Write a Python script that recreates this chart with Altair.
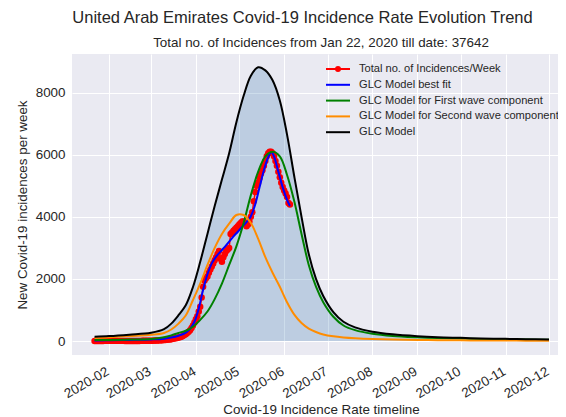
import altair as alt
import pandas as pd

SUPTITLE = "United Arab Emirates Covid-19 Incidence Rate Evolution Trend"
SUBTITLE = "Total no. of Incidences from Jan 22, 2020 till date: 37642"
X_TITLE = "Covid-19 Incidence Rate timeline"
Y_TITLE = "New Covid-19 incidences per week"

SERIES = ["Total no. of Incidences/Week", "GLC Model best fit",
          "GLC Model for First wave component", "GLC Model for Second wave component",
          "GLC Model"]
COLORS = ["#ff0000", "#0000ff", "#008000", "#ff8c00", "#000000"]

# observed weekly incidences, one value per day from 2020-01-22
obs_start = "2020-01-22"
obs_values = [
    0, 0, 0, 0, 0, 0, 0, 4, 4, 5,
    5, 5, 5, 5, 5, 5, 4, 4, 4, 4, 4, 3, 2, 2, 1, 1, 1, 1, 2, 2, 2, 3, 4, 5, 5, 5, 5, 5, 6,
    8, 10, 12, 14, 16, 18, 20, 22, 26, 30, 35, 40, 45, 50, 60, 70, 80, 90, 100, 110,
    120, 140, 160, 190, 220, 260, 300, 350, 420, 500, 600,
    700, 800, 950, 1100, 1400, 1750, 1950, 2020, 2080, 2200, 2300, 2400, 2500, 2600, 2700,
    2800, 2900, 2650, 2550, 2700, 2800, 2900, 2950, 3000, 3450, 3500, 3550, 3600, 3650, 3700,
    3750, 3800, 3850, 3850, 3800, 3700, 3750, 3850, 4000, 4150, 4500, 4800, 5000, 5100, 5250,
    5400, 5500, 5650, 5800, 5950, 6050, 6100, 6100, 6050, 5950, 5800, 5650, 5450, 5280, 5100,
    4960,
    4850, 4750, 4640, 4450, 4400,
]

fit_dates = ["2020-01-22", "2020-02-01", "2020-02-15", "2020-03-01", "2020-03-10", "2020-03-15",
             "2020-03-20", "2020-03-25", "2020-03-28", "2020-03-31", "2020-04-03", "2020-04-06",
             "2020-04-09", "2020-04-12", "2020-04-15", "2020-04-18", "2020-04-21", "2020-04-24",
             "2020-04-27", "2020-04-30", "2020-05-03", "2020-05-06", "2020-05-09", "2020-05-12",
             "2020-05-15", "2020-05-18", "2020-05-21", "2020-05-23", "2020-05-25", "2020-05-28",
             "2020-05-31", "2020-06-03", "2020-06-05"]
fit_values = [20, 25, 35, 50, 75, 110, 170, 270, 390, 620, 1050, 1650, 2150, 2500, 2720, 2880,
              3030, 3200, 3370, 3520, 3680, 3830, 4020, 4400, 4950, 5500, 5920, 6080, 5950, 5450,
              4950, 4550, 4350]

model_dates = ["2020-01-22", "2020-02-01", "2020-02-15", "2020-03-01", "2020-03-10", "2020-03-15",
               "2020-03-20", "2020-03-25", "2020-03-30", "2020-04-04", "2020-04-09", "2020-04-14",
               "2020-04-19", "2020-04-24", "2020-04-29", "2020-05-04", "2020-05-09", "2020-05-14",
               "2020-05-19", "2020-05-24", "2020-05-29", "2020-06-03", "2020-06-08", "2020-06-13",
               "2020-06-18", "2020-06-23", "2020-06-28", "2020-07-05", "2020-07-12", "2020-07-20",
               "2020-08-01", "2020-08-15", "2020-09-01", "2020-09-15", "2020-10-01", "2020-10-15",
               "2020-11-01", "2020-11-15", "2020-12-01"]
model_total = [140, 160, 205, 265, 380, 560, 830, 1150, 1740, 2550, 3450, 4350, 5200, 6050, 7050,
               7900, 8550, 8820, 8720, 8400, 7750, 6650, 5300, 4000, 2800, 2000, 1450, 930, 620,
               440, 300, 215, 155, 123, 102, 83, 70, 57, 48]
model_first = [30, 35, 45, 65, 120, 180, 260, 330, 460, 680, 950, 1350, 1850, 2450, 3050, 3800,
               4700, 5450, 5950, 6100, 5950, 5350, 4500, 3450, 2450, 1750, 1250, 780, 500, 350,
               235, 165, 120, 95, 80, 65, 55, 45, 38]
model_second = [100, 120, 160, 200, 260, 370, 560, 820, 1320, 1850, 2450, 3000, 3450, 3780, 4060,
                4060, 3800, 3300, 2700, 2200, 1750, 1250, 850, 580, 400, 290, 210, 150, 115, 90,
                65, 48, 35, 28, 22, 18, 15, 12, 10]

y_ticks = [0, 2000, 4000, 6000, 8000]
x_tick_months = list(range(2, 13))

FONT = "Liberation Sans"
TEXT = "#262626"

obs_dates = pd.date_range(obs_start, periods=len(obs_values), freq="D").strftime("%Y-%m-%d")
df_obs = pd.DataFrame({"date": obs_dates, "value": obs_values, "series": SERIES[0]})
df_fit = pd.DataFrame({"date": fit_dates, "value": fit_values, "series": SERIES[1]})
df_first = pd.DataFrame({"date": model_dates, "value": model_first, "series": SERIES[2]})
df_second = pd.DataFrame({"date": model_dates, "value": model_second, "series": SERIES[3]})
df_total = pd.DataFrame({"date": model_dates, "value": model_total, "series": SERIES[4]})
df_legend = pd.DataFrame({"date": ["2020-06-01"] * 5, "value": [0] * 5, "series": SERIES})

X = alt.X(
    "date:T",
    scale=alt.Scale(type="utc", domain=[
        alt.DateTime(year=2020, month=1, date=6, hours=10, utc=True),
        alt.DateTime(year=2020, month=12, date=7, hours=5, utc=True)]),
    axis=alt.Axis(values=[alt.DateTime(year=2020, month=m, date=1, utc=True) for m in x_tick_months],
                  labelExpr="utcFormat(datum.value, '%Y-%m')", labelAngle=-30, labelAlign="right",
                  labelBaseline="top", labelPadding=9, labelOffset=-5, ticks=False, domain=False,
                  grid=True, gridColor="white", gridWidth=1, labelFlush=False,
                  labelOverlap=False, titleX=249, titleY=58, titleBaseline="alphabetic",
                  titleAlign="center"),
    title=X_TITLE,
)
Y = alt.Y(
    "value:Q",
    scale=alt.Scale(domain=[-451, 9247], nice=False, zero=False),
    axis=alt.Axis(values=y_ticks, format="d", labelPadding=7, ticks=False, domain=False,
                  grid=True, gridColor="white", gridWidth=1, titleAngle=270, titleX=-46,
                  titleY=150.5, titleAlign="center", titleBaseline="alphabetic"),
    title=Y_TITLE,
)

LINE_PATH = "M-2.4,0L2.4,0"
DOT_PATH = "M-2.4,0L2.4,0M-0.4,0A0.4,0.4,0,1,0,0.4,0A0.4,0.4,0,1,0,-0.4,0Z"

legend = alt.Legend(title=None, orient="none", legendX=260, legendY=9, direction="vertical",
                    symbolSize=100, symbolStrokeWidth=2, symbolFillColor="#ff0000",
                    symbolOpacity=1, labelFont=FONT, labelFontSize=11.1, labelColor=TEXT,
                    labelOffset=15, labelLimit=400, rowPadding=3.8, padding=0)
COLOR = alt.Color("series:N", scale=alt.Scale(domain=SERIES, range=COLORS), legend=legend)
SHAPE = alt.Shape("series:N", scale=alt.Scale(domain=SERIES, range=[DOT_PATH] + [LINE_PATH] * 4),
                  legend=legend)

area = alt.Chart(df_total).mark_area(color="steelblue", opacity=0.27,
                                     interpolate="catmull-rom").encode(x=X, y=Y)
obs_line = alt.Chart(df_obs).mark_line(strokeWidth=1.5).encode(x=X, y=Y, color=COLOR)
obs_pts = alt.Chart(df_obs).mark_circle(size=42, color="#ff0000", opacity=1).encode(x=X, y=Y)
fit_line = alt.Chart(df_fit).mark_line(strokeWidth=2, interpolate="monotone").encode(
    x=X, y=Y, color=COLOR)
first_line = alt.Chart(df_first).mark_line(strokeWidth=2, interpolate="catmull-rom").encode(
    x=X, y=Y, color=COLOR)
second_line = alt.Chart(df_second).mark_line(strokeWidth=2, interpolate="catmull-rom").encode(
    x=X, y=Y, color=COLOR)
total_line = alt.Chart(df_total).mark_line(strokeWidth=2, interpolate="catmull-rom").encode(
    x=X, y=Y, color=COLOR)
legend_layer = alt.Chart(df_legend).mark_point(filled=False, opacity=0).encode(
    x=X, y=Y, color=COLOR, shape=SHAPE).transform_filter("datum.value > 1000000")

title_txt = alt.Chart(pd.DataFrame({"t": [SUPTITLE]})).mark_text(
    font=FONT, fontSize=16.5, color=TEXT, align="center", baseline="alphabetic").encode(
    text="t:N", x=alt.value(230.5), y=alt.value(-31.5))
sub_txt = alt.Chart(pd.DataFrame({"t": [SUBTITLE]})).mark_text(
    font=FONT, fontSize=13.4, color=TEXT, align="center", baseline="alphabetic").encode(
    text="t:N", x=alt.value(249), y=alt.value(-7))

chart = alt.layer(area, obs_line, obs_pts, fit_line, first_line, second_line, total_line,
                  legend_layer, title_txt, sub_txt).properties(
    width=486, height=301,
    autosize=alt.AutoSizeParams(type="none"),
    padding={"left": 64, "top": 46, "right": 0, "bottom": 61},
    background="white",
).configure_view(fill="#EAEAF2", strokeWidth=0).configure_axis(
    labelFont=FONT, titleFont=FONT, labelFontSize=13.4, titleFontSize=13.4,
    labelColor=TEXT, titleColor=TEXT, titleFontWeight="normal",
)

chart.save("out.html", embed_options={"renderer": "svg", "actions": False})
